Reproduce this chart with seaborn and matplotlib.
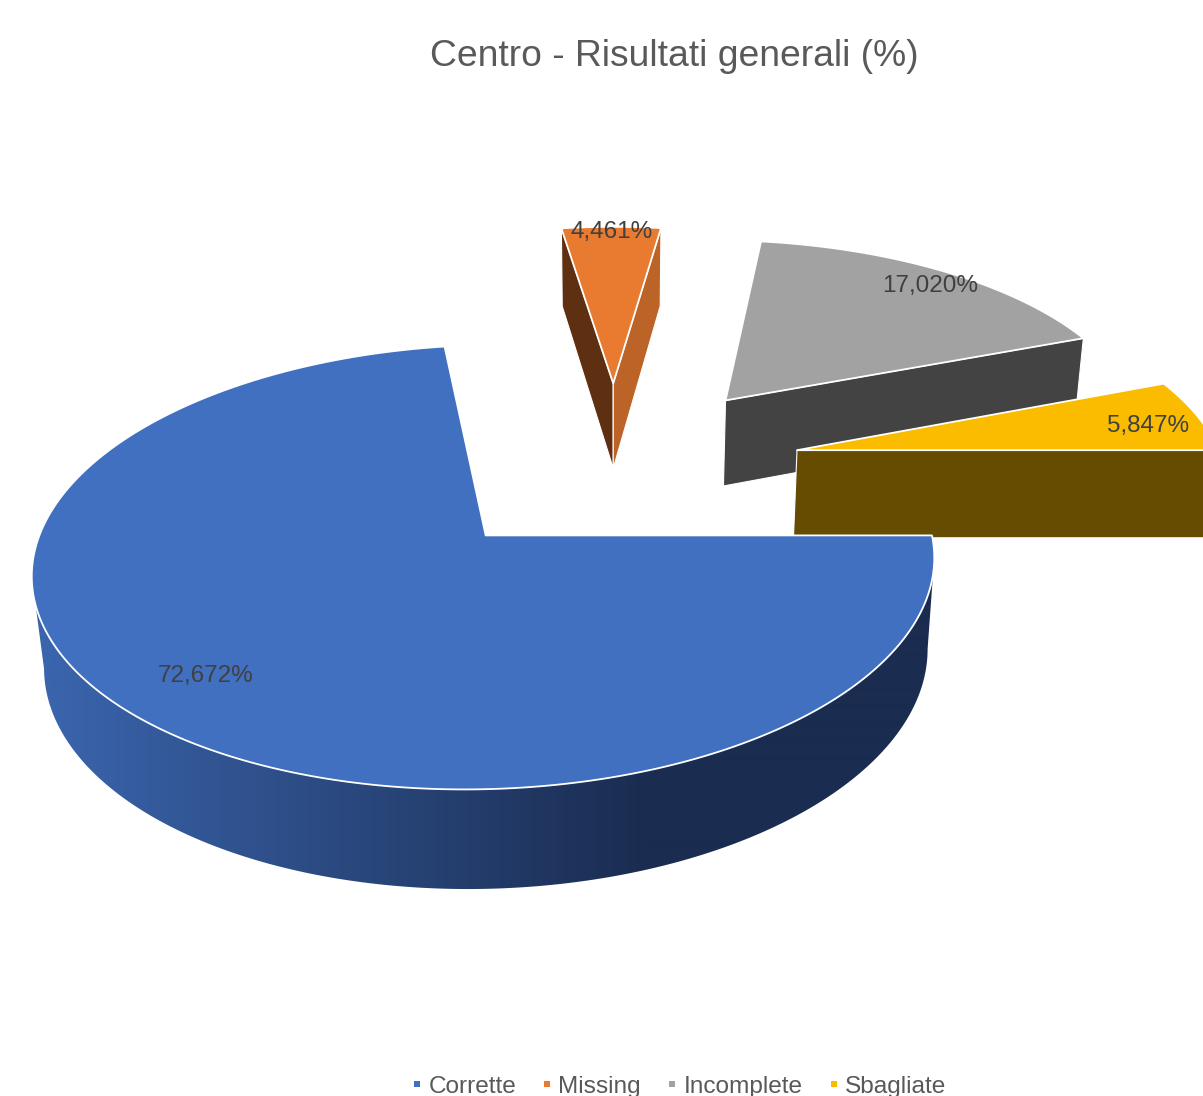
import numpy as np
import matplotlib
matplotlib.use("Agg")
import matplotlib.pyplot as plt
from matplotlib.colors import ListedColormap
from matplotlib.lines import Line2D
from matplotlib.patches import Polygon
import seaborn as sns

# data
categories = ["Corrette", "Missing", "Incomplete", "Sbagliate"]
values = [72.672, 4.461, 17.020, 5.847]
value_labels = ["72,672%", "4,461%", "17,020%", "5,847%"]
title = "Centro - Risultati generali (%)"

# style
top_colors = ["#4170C0", "#E97B31", "#A2A2A2", "#FBBC00"]
sns.set_theme(style="white")
plt.rcParams["font.family"] = ["Liberation Sans", "DejaVu Sans"]
palette = sns.color_palette(top_colors)
wall_cmap = ListedColormap(sns.blend_palette(["#3A64AC", "#1A2C50"], n_colors=256))
# visible radial faces: slice index -> (edge: 0 start / 1 end, colour)
faces = {1: [(0, "#5F2F12"), (1, "#BC6428")], 2: [(1, "#434343")], 3: [(1, "#654C00")]}
label_xy = [(206, 674), (612, 230), (930, 284), (1148, 424)]

# perspective view of the exploded pie (unit radius plate, thickness z=1)
X0, Y0, A, B, K, M, D, EXPLODE = 614.3, 466.0, 426.0, 198.5, 0.136, 0.02, 90.0, 0.441


def project(u, v, z=0.0):
    w = 1 + K * np.asarray(v) + M * np.asarray(z)
    return X0 + A * np.asarray(u) / w, Y0 + (-B * np.asarray(v) + D * np.asarray(z)) / w


fig = plt.figure(figsize=(12.03, 10.96), dpi=100, facecolor="white")
ax = fig.add_axes([0, 0, 1, 1])
ax.axis("off")

fracs = np.array(values) / np.sum(values) * 360.0
ends = -np.cumsum(fracs)
starts = ends + fracs
mids = np.radians((starts + ends) / 2)

slices = []
for i in range(len(values)):
    cx, cy = EXPLODE * np.cos(mids[i]), EXPLODE * np.sin(mids[i])
    th = np.radians(np.linspace(starts[i], ends[i], 600))
    slices.append((cx, cy, th))


def draw_top(i, zorder):
    cx, cy, th = slices[i]
    us = np.r_[cx, cx + np.cos(th)]
    vs = np.r_[cy, cy + np.sin(th)]
    x, y = project(us, vs)
    ax.fill(x, y, facecolor=palette[i], edgecolor="white", linewidth=1.3, joinstyle="round", zorder=zorder)


def draw_faces(i, zorder):
    cx, cy, th = slices[i]
    for edge, col in faces.get(i, []):
        t = th[0] if edge == 0 else th[-1]
        u = np.array([cx, cx + np.cos(t), cx + np.cos(t), cx])
        v = np.array([cy, cy + np.sin(t), cy + np.sin(t), cy])
        z = np.array([0, 0, 1, 1])
        x, y = project(u, v, z)
        ax.fill(x, y, facecolor=col, edgecolor="white", linewidth=0.8, zorder=zorder)


# Incomplete, Sbagliate, Missing, then Corrette nearest to the viewer
for rank, i in enumerate([2, 3, 1]):
    draw_faces(i, 2 + 2 * rank)
    draw_top(i, 3 + 2 * rank)

# outer wall of the large slice, between its left and right silhouette, shaded from left to right
cx, cy, th = slices[0]
xt_all, _ = project(cx + np.cos(th), cy + np.sin(th), 0 * th)
vis = th[np.argmax(xt_all):np.argmin(xt_all) + 1]
xt, yt = project(cx + np.cos(vis), cy + np.sin(vis), 0 * vis)
xb, yb = project(cx + np.cos(vis), cy + np.sin(vis), 0 * vis + 1)
wall = Polygon(np.c_[np.r_[xt, xb[::-1]], np.r_[yt, yb[::-1]]], closed=True, facecolor="none",
               edgecolor="none", transform=ax.transData)
ax.add_patch(wall)
shade = np.clip((np.arange(1203) - 50) / 600, 0, 1)[None, :]
img = ax.imshow(shade, cmap=wall_cmap, extent=(0, 1203, 1096, 0), aspect="auto", vmin=0, vmax=1,
                interpolation="bilinear", zorder=10)
img.set_clip_path(wall)
draw_top(0, 11)

ax.set_xlim(0, 1203)
ax.set_ylim(1096, 0)

for txt, (lx, ly) in zip(value_labels, label_xy):
    ax.text(lx, ly + 2, txt, ha="center", va="center", fontsize=17.5, color="#404040", zorder=20)

ax.set_title(title, x=674 / 1203, y=1 - 65 / 1096, va="center", ha="center", fontsize=26.85, color="#595959")

handles = [Line2D([], [], linestyle="none", marker="s", markersize=4.3, color=c, markeredgewidth=0) for c in palette]
ax.legend(handles, categories, ncol=4, loc="center", bbox_to_anchor=(678.5 / 1203, 1 - 1087 / 1096),
          frameon=False, fontsize=17.6, labelcolor="#595959", handlelength=0.5, handletextpad=0.2,
          columnspacing=1.03, borderpad=0, borderaxespad=0, labelspacing=0)

fig.savefig("out.png", dpi=100, facecolor="white")
